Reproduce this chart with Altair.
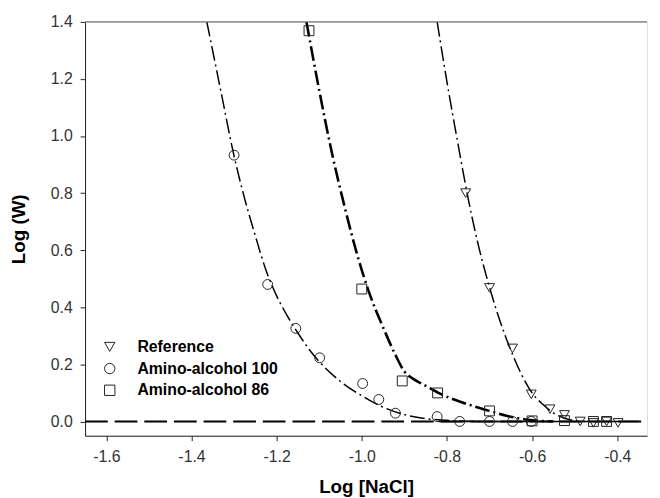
import altair as alt
import pandas as pd

# ---- data ----
ref_x = [-0.756, -0.700, -0.646, -0.602, -0.558, -0.524, -0.487, -0.456, -0.425, -0.398]
ref_y = [0.80, 0.468, 0.256, 0.095, 0.043, 0.023, 0.0, -0.005, 0.0, -0.005]

aa100_x = [-1.300, -1.221, -1.155, -1.099, -0.998, -0.960, -0.921, -0.823, -0.770, -0.700, -0.646, -0.602]
aa100_y = [0.933, 0.48, 0.326, 0.223, 0.133, 0.077, 0.029, 0.017, 0.0, 0.0, 0.0, 0.0]

aa86_x = [-1.124, -1.000, -0.905, -0.822, -0.700, -0.600, -0.524, -0.456, -0.425]
aa86_y = [1.369, 0.464, 0.142, 0.100, 0.037, 0.002, 0.003, 0.0, 0.0]

# fitted curves (dash-dot)
ref_fit_x = [-0.823, -0.80, -0.775, -0.75, -0.725, -0.70, -0.675, -0.65, -0.625, -0.60, -0.575, -0.55, -0.525, -0.50, -0.475]
ref_fit_y = [1.40, 1.19, 0.98, 0.78, 0.61, 0.47, 0.35, 0.25, 0.165, 0.10, 0.06, 0.03, 0.012, 0.003, 0.0]

aa100_fit_x = [-1.364, -1.33, -1.30, -1.275, -1.25, -1.225, -1.20, -1.175, -1.15, -1.125, -1.10, -1.05, -1.00, -0.95, -0.90, -0.85, -0.80, -0.75, -0.70, -0.65, -0.60]
aa100_fit_y = [1.40, 1.15, 0.93, 0.78, 0.65, 0.53, 0.44, 0.37, 0.31, 0.255, 0.21, 0.14, 0.09, 0.05, 0.024, 0.01, 0.004, 0.001, 0.0, 0.0, 0.0]

aa86_fit_x = [-1.13, -1.10, -1.07, -1.04, -1.01, -0.98, -0.95, -0.92, -0.90, -0.88, -0.85, -0.82, -0.78, -0.74, -0.70, -0.66, -0.62, -0.58, -0.55]
aa86_fit_y = [1.40, 1.16, 0.94, 0.75, 0.58, 0.44, 0.33, 0.23, 0.175, 0.15, 0.125, 0.10, 0.075, 0.055, 0.037, 0.02, 0.008, 0.002, 0.0]

zero_x = [-1.65, -0.33]
zero_y = [0.0, 0.0]
tail_x = [-0.82, -0.35]
tail_y = [0.0, 0.0]

series_order = ["Reference", "Amino-alcohol 100", "Amino-alcohol 86"]
shapes = ["triangle-down", "circle", "square"]

x_ticks = [-1.6, -1.4, -1.2, -1.0, -0.8, -0.6, -0.4]
y_ticks = [0.0, 0.2, 0.4, 0.6, 0.8, 1.0, 1.2, 1.4]

# ---- tables ----
pts = pd.concat([
    pd.DataFrame({"x": ref_x, "y": ref_y, "s": "Reference"}),
    pd.DataFrame({"x": aa100_x, "y": aa100_y, "s": "Amino-alcohol 100"}),
    pd.DataFrame({"x": aa86_x, "y": aa86_y, "s": "Amino-alcohol 86"}),
])

FONT = "Liberation Sans"
LBL = "replace(format(datum.value, '.1f'), '\u2212', '-')"
xs = alt.Scale(domain=[-1.65, -0.33], nice=False, zero=False)
ys = alt.Scale(domain=[-0.05, 1.4], nice=False, zero=False)

xenc = alt.X("x:Q", scale=xs, axis=alt.Axis(
    title="Log [NaCl]", values=x_ticks, labelExpr=LBL, grid=False,
    titleFontWeight="bold", titleFontSize=19, titlePadding=13,
    labelFontSize=16, labelPadding=8, tickSize=5, labelColor="#333",
    domainColor="#222", tickColor="#222", titleColor="#000"))
yenc = alt.Y("y:Q", scale=ys, axis=alt.Axis(
    title="Log (W)", values=y_ticks, labelExpr=LBL, grid=False,
    titleFontWeight="bold", titleFontSize=19, titlePadding=22,
    labelFontSize=16, labelPadding=8, tickSize=5, labelColor="#333",
    domainColor="#222", tickColor="#222", titleColor="#000"))


def curve(xv, yv, width):
    df = pd.DataFrame({"x": xv, "y": yv})
    return alt.Chart(df).mark_line(
        color="black", strokeWidth=width, strokeDash=[15, 4, 2, 4],
        interpolate="monotone", clip=True
    ).encode(x=alt.X("x:Q", scale=xs), y=alt.Y("y:Q", scale=ys))


zero_line = alt.Chart(pd.DataFrame({"x": zero_x, "y": zero_y})).mark_line(
    color="black", strokeWidth=2, strokeDash=[23, 7]
).encode(x=xenc, y=yenc)

tail_line = alt.Chart(pd.DataFrame({"x": tail_x, "y": tail_y})).mark_line(
    color="black", strokeWidth=1.5
).encode(x=alt.X("x:Q", scale=xs), y=alt.Y("y:Q", scale=ys))

top_border = alt.Chart(pd.DataFrame({"a": [0]})).mark_rule(
    color="#777", strokeWidth=1.5
).encode(y=alt.value(0))

points = alt.Chart(pts).mark_point(
    filled=False, color="#222", strokeWidth=1, size=100, opacity=1
).encode(
    x=alt.X("x:Q", scale=xs),
    y=alt.Y("y:Q", scale=ys),
    shape=alt.Shape("s:N", scale=alt.Scale(domain=series_order, range=shapes),
                    legend=alt.Legend(
                        title=None, orient="none", legendX=17, legendY=321,
                        labelFontSize=16, labelFontWeight="bold", labelFont=FONT,
                        labelColor="#000", symbolStrokeColor="#222",
                        symbolFillColor="transparent", symbolStrokeWidth=1,
                        symbolSize=110, labelOffset=20, rowPadding=6)),
)

chart = alt.layer(
    zero_line,
    tail_line,
    curve(aa100_fit_x, aa100_fit_y, 1.5),
    curve(aa86_fit_x, aa86_fit_y, 2.6),
    curve(ref_fit_x, ref_fit_y, 1.5),
    points,
    top_border,
).properties(
    width=569, height=419,
    autosize=alt.AutoSizeParams(type="none"),
    padding={"left": 78, "top": 11, "right": 5, "bottom": 60},
).configure_view(stroke=None).configure(font=FONT, background="white")

chart.save("out.html", embed_options={"renderer": "svg", "actions": False})
